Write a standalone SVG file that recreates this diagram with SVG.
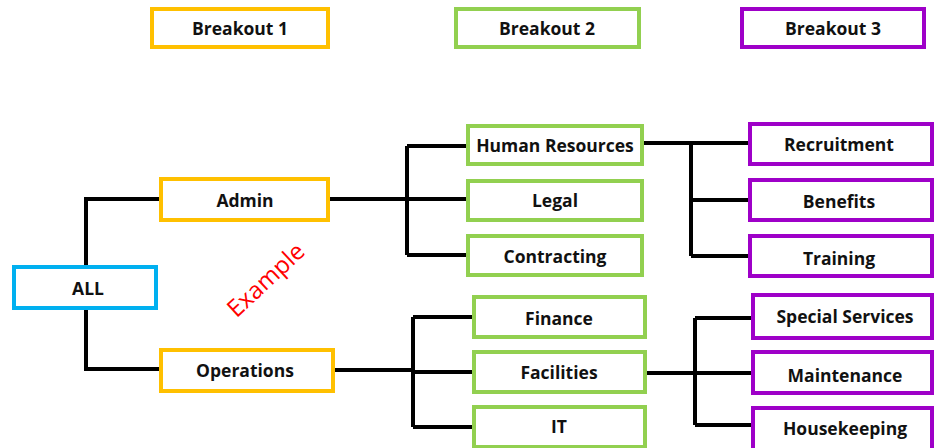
<svg xmlns="http://www.w3.org/2000/svg" width="942" height="448" viewBox="0 0 942 448">
<style>
.box{fill:#fff;stroke-width:4}
.o{stroke:#FFC000}.g{stroke:#92D050}.p{stroke:#9E00C8}.b{stroke:#00B0F0}
.t{font-family:"Open Sans","Liberation Sans",sans-serif;font-weight:700;font-size:17.5px;fill:#111;text-anchor:middle;dominant-baseline:central}
.c{fill:none;stroke:#000;stroke-width:4}
</style>
<rect width="942" height="448" fill="#fff"/>
<g id="connectors">
<path class="c" d="M86 265V199H159M86 309V369H159"/>
<path class="c" d="M329 199H407M407 146V255M407 146H467M407 199H467M407 255H467"/>
<path class="c" d="M334 370H413M413 317V427M413 317H473M413 372H473M413 427H473"/>
<path class="c" d="M643 143H749M691 143V256M691 200H749M691 256H749"/>
<path class="c" d="M646 373H753M695 318V425M695 318H753M695 425H753"/>
</g>
<g id="breakout1"><rect class="box o" x="152" y="9" width="176" height="38"/><text class="t" x="240" y="28">Breakout 1</text></g>
<g id="breakout2"><rect class="box g" x="456" y="9" width="183" height="38"/><text class="t" x="547" y="28">Breakout 2</text></g>
<g id="breakout3"><rect class="box p" x="742" y="9" width="182" height="38"/><text class="t" x="833" y="28">Breakout 3</text></g>
<g id="all"><rect class="box b" x="14" y="267" width="142" height="41"/><text class="t" x="88" y="288">ALL</text></g>
<g id="admin"><rect class="box o" x="161" y="179" width="167" height="41"/><text class="t" x="245" y="200">Admin</text></g>
<g id="operations"><rect class="box o" x="161" y="350" width="172" height="41"/><text class="t" x="245" y="370">Operations</text></g>
<g id="hr"><rect class="box g" x="468" y="126" width="174" height="38"/><text class="t" x="555" y="145">Human Resources</text></g>
<g id="legal"><rect class="box g" x="468" y="181" width="174" height="39"/><text class="t" x="555" y="200">Legal</text></g>
<g id="contracting"><rect class="box g" x="468" y="236" width="174" height="39"/><text class="t" x="555" y="256">Contracting</text></g>
<g id="finance"><rect class="box g" x="474" y="297" width="171" height="40"/><text class="t" x="559" y="318">Finance</text></g>
<g id="facilities"><rect class="box g" x="474" y="352" width="171" height="40"/><text class="t" x="559" y="372">Facilities</text></g>
<g id="it"><rect class="box g" x="474" y="407" width="171" height="40"/><text class="t" x="559" y="426">IT</text></g>
<g id="recruitment"><rect class="box p" x="750" y="124" width="182" height="40"/><text class="t" x="839" y="144">Recruitment</text></g>
<g id="benefits"><rect class="box p" x="750" y="180" width="182" height="40"/><text class="t" x="839" y="201">Benefits</text></g>
<g id="training"><rect class="box p" x="750" y="236" width="182" height="40"/><text class="t" x="839" y="258">Training</text></g>
<g id="special"><rect class="box p" x="753" y="295" width="179" height="43"/><text class="t" x="845" y="316">Special Services</text></g>
<g id="maintenance"><rect class="box p" x="753" y="352" width="179" height="41"/><text class="t" x="845" y="375">Maintenance</text></g>
<g id="housekeeping"><rect class="box p" x="753" y="408" width="179" height="42"/><text class="t" x="845" y="428">Housekeeping</text></g>
<text x="265" y="279" transform="rotate(-43 265 279)" font-family="Open Sans, Liberation Sans, sans-serif" font-size="24" fill="#FF0000" text-anchor="middle" dominant-baseline="central">Example</text>
</svg>
